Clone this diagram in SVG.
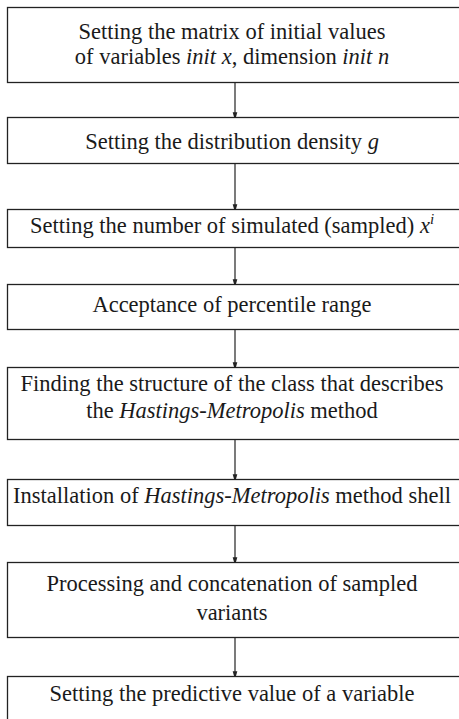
<svg xmlns="http://www.w3.org/2000/svg" width="459" height="719" viewBox="0 0 459 719">
<style>
.box{fill:#fff;stroke:#222;stroke-width:1.3}
.t{font-family:'Liberation Serif','Times New Roman',serif;font-size:22.5px;fill:#1a1a1a;text-anchor:middle}
.i{font-style:italic}
.c{stroke:#222;stroke-width:1.2;fill:none}
</style>
<defs>
<marker id="ah" markerWidth="8" markerHeight="12" refX="7" refY="3.5" orient="auto" markerUnits="userSpaceOnUse" viewBox="0 0 12 7">
<path d="M0,0 L12,3.5 L0,7 Z" fill="#222"/>
</marker>
</defs>
<rect width="459" height="719" fill="#fff"/>
<g id="connectors">
<line class="c" x1="235" y1="82" x2="235" y2="117" marker-end="url(#ah)"/>
<line class="c" x1="235" y1="163" x2="235" y2="209" marker-end="url(#ah)"/>
<line class="c" x1="235" y1="247" x2="235" y2="284" marker-end="url(#ah)"/>
<line class="c" x1="235" y1="329" x2="235" y2="367" marker-end="url(#ah)"/>
<line class="c" x1="235" y1="439" x2="235" y2="479" marker-end="url(#ah)"/>
<line class="c" x1="235" y1="525" x2="235" y2="562" marker-end="url(#ah)"/>
<line class="c" x1="235" y1="637" x2="235" y2="676" marker-end="url(#ah)"/>
</g>
<g id="n1"><rect class="box" x="7.5" y="7.5" width="470" height="75"/>
<text class="t" x="232" y="39">Setting the matrix of initial values</text>
<text class="t" x="232" y="64">of variables <tspan class="i">init x</tspan>, dimension <tspan class="i">init n</tspan></text></g>
<g id="n2"><rect class="box" x="7.5" y="117.5" width="470" height="46"/>
<text class="t" x="232" y="149">Setting the distribution density <tspan class="i">g</tspan></text></g>
<g id="n3"><rect class="box" x="7.5" y="209.5" width="470" height="38"/>
<text class="t" x="232" y="233">Setting the number of simulated (sampled) <tspan class="i">x</tspan><tspan class="i" font-size="15" dy="-9">i</tspan></text></g>
<g id="n4"><rect class="box" x="7.5" y="284.5" width="470" height="45"/>
<text class="t" x="232" y="312">Acceptance of percentile range</text></g>
<g id="n5"><rect class="box" x="7.5" y="367.5" width="470" height="72"/>
<text class="t" x="232" y="391">Finding the structure of the class that describes</text>
<text class="t" x="232" y="418">the <tspan class="i">Hastings</tspan>-<tspan class="i">Metropolis</tspan> method</text></g>
<g id="n6"><rect class="box" x="7.5" y="479.5" width="470" height="46"/>
<text class="t" x="232" y="503">Installation of <tspan class="i">Hastings</tspan>-<tspan class="i">Metropolis</tspan> method shell</text></g>
<g id="n7"><rect class="box" x="7.5" y="562.5" width="470" height="75"/>
<text class="t" x="232" y="591">Processing and concatenation of sampled</text>
<text class="t" x="232" y="620">variants</text></g>
<g id="n8"><rect class="box" x="7.5" y="676.5" width="470" height="60"/>
<text class="t" x="232" y="701">Setting the predictive value of a variable</text></g>
</svg>
